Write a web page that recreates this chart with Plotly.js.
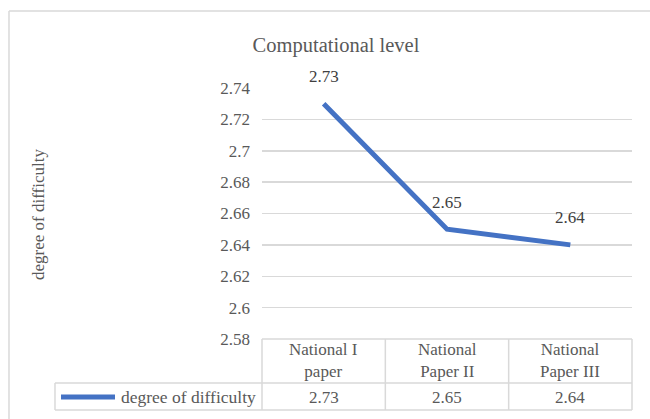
<!DOCTYPE html>
<html>
<head>
<meta charset="utf-8">
<script src="https://cdn.plot.ly/plotly-3.0.1.min.js"></script>
<style>
  html, body { margin: 0; padding: 0; background: #ffffff; }
  #chart { width: 650px; height: 419px; }
</style>
</head>
<body>
<div id="chart"></div>
<script>
// Chart data
const categories = ['National I paper', 'National Paper II', 'National Paper III'];
const headerLabels = ['National I<br>paper', 'National<br>Paper II', 'National<br>Paper III'];
const seriesName = 'degree of difficulty';
const difficulty = [2.73, 2.65, 2.64];
const yTickVals = [2.58, 2.60, 2.62, 2.64, 2.66, 2.68, 2.70, 2.72, 2.74];
const yTickText = ['2.58', '2.6', '2.62', '2.64', '2.66', '2.68', '2.7', '2.72', '2.74'];

const FONT = 'Liberation Serif';
const GRID = '#d9d9d9';
const TEXT = '#595959';
const LINE = '#4472C4';

// Paper positions of the data-table rows below the plot
const headerRowY = -0.0876;
const dataRowY = -0.2311;
const midRule = -0.1753;
const bottomRule = -0.2829;
const leftEdge = -0.5595;

const trace = {
  type: 'scatter',
  mode: 'lines',
  x: categories,
  y: difficulty,
  name: seriesName,
  line: { color: LINE, width: 5 },
  hoverinfo: 'skip'
};

const annotations = [];

// Value labels above each point
difficulty.forEach((v, i) => {
  annotations.push({
    x: categories[i], y: v, xref: 'x', yref: 'y',
    text: String(v), showarrow: false, yshift: 27,
    font: { family: FONT, size: 17, color: '#404040' }
  });
});

// Data table: category headers and values
categories.forEach((c, i) => {
  annotations.push({
    x: c, y: headerRowY, xref: 'x', yref: 'paper',
    text: headerLabels[i], showarrow: false, yanchor: 'middle',
    font: { family: FONT, size: 17, color: TEXT }
  });
  annotations.push({
    x: c, y: dataRowY, xref: 'x', yref: 'paper',
    text: String(difficulty[i]), showarrow: false, yanchor: 'middle',
    font: { family: FONT, size: 17, color: TEXT }
  });
});

// Legend key label in the table
annotations.push({
  x: -0.012, y: dataRowY, xref: 'paper', yref: 'paper',
  text: seriesName, showarrow: false, xanchor: 'right', yanchor: 'middle',
  font: { family: FONT, size: 17.5, color: TEXT }
});

// Vertical axis title
annotations.push({
  x: -0.6054, y: 0.494, xref: 'paper', yref: 'paper',
  text: seriesName, showarrow: false, textangle: -90,
  xanchor: 'center', yanchor: 'middle',
  font: { family: FONT, size: 17, color: TEXT }
});

const rule = (x0, y0, x1, y1, color, width) => ({
  type: 'line', xref: 'paper', yref: 'paper',
  x0, y0, x1, y1, line: { color, width }, layer: 'below'
});

const shapes = [
  // outer chart border
  rule(-0.6838, 1.3068, 1.2, 1.3068, GRID, 1.5),
  rule(-0.6838, 1.3068, -0.6838, -0.5, GRID, 1.5),
  // table rules
  rule(0, 0, 1, 0, GRID, 1.5),
  rule(leftEdge, midRule, 1, midRule, GRID, 1.5),
  rule(leftEdge, bottomRule, 1, bottomRule, GRID, 1.5),
  rule(leftEdge, midRule, leftEdge, bottomRule, GRID, 1.5),
  rule(0, 0, 0, bottomRule, GRID, 1.5),
  rule(1 / 3, 0, 1 / 3, bottomRule, GRID, 1.5),
  rule(2 / 3, 0, 2 / 3, bottomRule, GRID, 1.5),
  rule(1, 0, 1, bottomRule, GRID, 1.5),
  // legend key
  { type: 'line', xref: 'paper', yref: 'paper',
    x0: -0.5432, x1: -0.3973, y0: dataRowY, y1: dataRowY,
    line: { color: LINE, width: 5 } }
];

const layout = {
  width: 650,
  height: 419,
  margin: { l: 262, r: 18, t: 88, b: 80 },
  paper_bgcolor: '#ffffff',
  plot_bgcolor: '#ffffff',
  showlegend: false,
  font: { family: FONT, size: 17, color: TEXT },
  title: {
    text: 'Computational level',
    x: 336 / 650, y: 1 - 45 / 419,
    xref: 'container', yref: 'container',
    xanchor: 'center', yanchor: 'middle',
    font: { family: FONT, size: 20.5, color: TEXT }
  },
  xaxis: {
    type: 'category',
    range: [-0.5, 2.5],
    showticklabels: false,
    showgrid: false,
    zeroline: false,
    showline: false,
    ticks: '',
    fixedrange: true
  },
  yaxis: {
    range: [2.58, 2.74],
    tickvals: yTickVals,
    ticktext: yTickText,
    showgrid: true,
    gridcolor: GRID,
    gridwidth: 1.5,
    zeroline: false,
    showline: false,
    ticks: '',
    ticklabelstandoff: 11,
    tickfont: { family: FONT, size: 17, color: TEXT },
    fixedrange: true
  },
  shapes,
  annotations
};

Plotly.newPlot('chart', [trace], layout, { displayModeBar: false, staticPlot: true });
</script>
</body>
</html>
